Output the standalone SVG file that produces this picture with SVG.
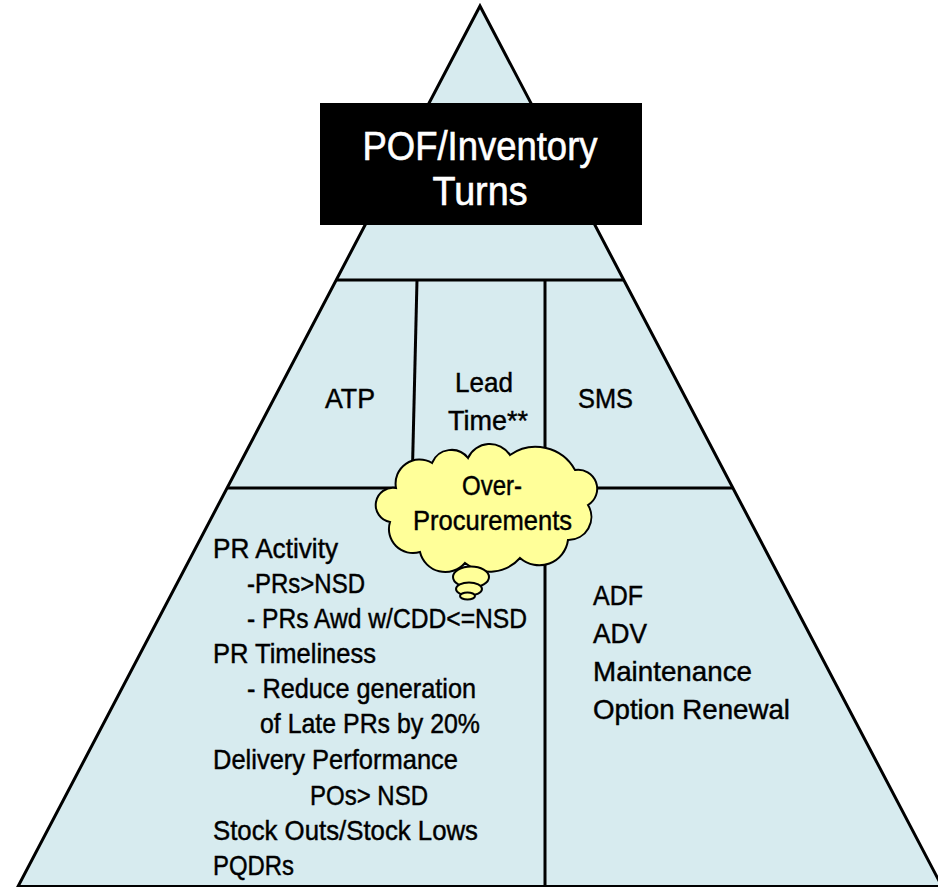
<svg xmlns="http://www.w3.org/2000/svg" width="938" height="887" viewBox="0 0 938 887">
<style>
.pyr{fill:#D7EBEF;stroke:#000;stroke-width:3;stroke-linejoin:miter}
.div{stroke:#000;stroke-width:3;fill:none}
.cloud{fill:#FFFF99;stroke:#000;stroke-width:2}
text{font-family:"Liberation Sans",Arial,sans-serif;fill:#000}
.t{font-size:28px;stroke:#000;stroke-width:0.45}
.title{font-size:40px;fill:#fff;stroke:#fff;stroke-width:0.6}
</style>
<rect width="938" height="887" fill="#fff"/>
<g id="pyramid">
<polygon class="pyr" points="480,6 18,886.5 942,886.5"/>
</g>
<g id="connectors">
<line class="div" x1="336" y1="280" x2="624" y2="280"/>
<line class="div" x1="227" y1="488" x2="733" y2="488"/>
<line class="div" x1="417" y1="280" x2="412" y2="488"/>
<line class="div" x1="545" y1="280" x2="545" y2="887"/>
</g>
<g id="title">
<rect x="320" y="103" width="322" height="122" fill="#000"/>
<text class="title" x="480" y="160" text-anchor="middle" textLength="235" lengthAdjust="spacingAndGlyphs">POF/Inventory</text>
<text class="title" x="480" y="205" text-anchor="middle" textLength="95" lengthAdjust="spacingAndGlyphs">Turns</text>
</g>
<g id="atp">
<text class="t" x="325" y="408" textLength="50" lengthAdjust="spacingAndGlyphs">ATP</text>
</g>
<g id="leadtime">
<text class="t" x="455" y="392" textLength="58" lengthAdjust="spacingAndGlyphs">Lead</text>
<text class="t" x="448" y="430" textLength="80" lengthAdjust="spacingAndGlyphs">Time**</text>
</g>
<g id="sms">
<text class="t" x="578" y="408" textLength="55" lengthAdjust="spacingAndGlyphs">SMS</text>
</g>
<g id="left-metrics">
<text class="t" x="213" y="558" textLength="125" lengthAdjust="spacingAndGlyphs">PR Activity</text>
<text class="t" x="247" y="593" textLength="118" lengthAdjust="spacingAndGlyphs">-PRs&gt;NSD</text>
<text class="t" x="247" y="628" textLength="280" lengthAdjust="spacingAndGlyphs">- PRs Awd w/CDD&lt;=NSD</text>
<text class="t" x="213" y="663" textLength="163" lengthAdjust="spacingAndGlyphs">PR Timeliness</text>
<text class="t" x="247" y="698" textLength="229" lengthAdjust="spacingAndGlyphs">- Reduce generation</text>
<text class="t" x="260" y="733" textLength="220" lengthAdjust="spacingAndGlyphs">of Late PRs by 20%</text>
<text class="t" x="213" y="769" textLength="245" lengthAdjust="spacingAndGlyphs">Delivery Performance</text>
<text class="t" x="310" y="805" textLength="118" lengthAdjust="spacingAndGlyphs">POs&gt; NSD</text>
<text class="t" x="213" y="840" textLength="265" lengthAdjust="spacingAndGlyphs">Stock Outs/Stock Lows</text>
<text class="t" x="213" y="875" textLength="81" lengthAdjust="spacingAndGlyphs">PQDRs</text>
</g>
<g id="right-metrics">
<text class="t" x="593" y="605" textLength="50" lengthAdjust="spacingAndGlyphs">ADF</text>
<text class="t" x="593" y="643" textLength="54" lengthAdjust="spacingAndGlyphs">ADV</text>
<text class="t" x="593" y="681" textLength="159" lengthAdjust="spacingAndGlyphs">Maintenance</text>
<text class="t" x="593" y="719" textLength="197" lengthAdjust="spacingAndGlyphs">Option Renewal</text>
</g>
<g id="over-procurements">
<path class="cloud" d="M390,522 A17,17 0 0 1 396,488 A24,24 0 0 1 432,463 A21,21 0 0 1 468,458 A24,24 0 0 1 510,455 A45,45 0 0 1 575,470 A19,19 0 0 1 588,505 A23,23 0 0 1 568,540 A29,29 0 0 1 520,558 A40,40 0 0 1 465,563 A26,26 0 0 1 420,552 A24,24 0 0 1 390,522 Z"/>
<ellipse class="cloud" cx="471" cy="577" rx="18" ry="10.5"/>
<ellipse class="cloud" cx="469" cy="589" rx="13" ry="6.5"/>
<ellipse class="cloud" cx="467.5" cy="596" rx="7.5" ry="3.5"/>
<text class="t" x="492" y="495" text-anchor="middle" textLength="60" lengthAdjust="spacingAndGlyphs">Over-</text>
<text class="t" x="492.5" y="530" text-anchor="middle" textLength="159" lengthAdjust="spacingAndGlyphs">Procurements</text>
</g>
</svg>
